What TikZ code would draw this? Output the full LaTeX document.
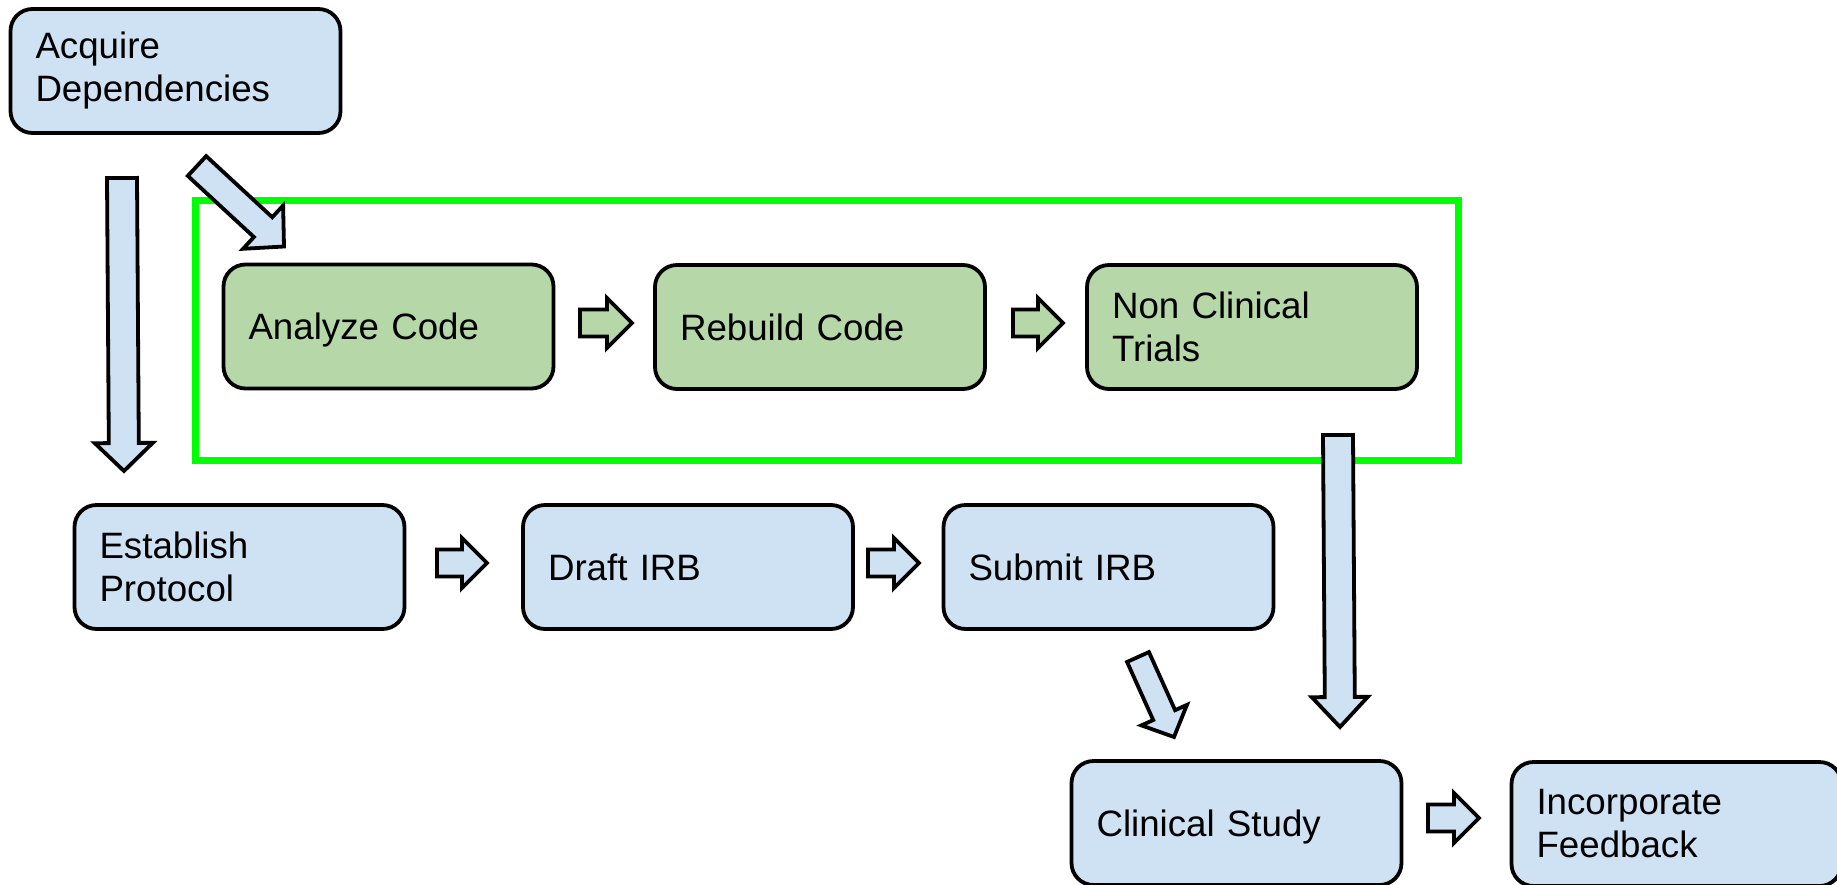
\documentclass[tikz,border=0pt]{standalone}
\usepackage{fontspec}
\setmainfont{Liberation Sans}
\usetikzlibrary{calc}

\definecolor{boxblue}{HTML}{CFE2F3}
\definecolor{boxgreen}{HTML}{B6D7A8}
\definecolor{framegreen}{HTML}{00FF00}

\tikzset{
  stepbox/.style={draw=black, line width=3.8pt, rounded corners=22pt, outer sep=0pt,
    minimum width=330pt, minimum height=124pt, text width=280pt, inner xsep=25pt,
    align=left, font=\fontsize{36.7}{43}\selectfont},
  bluebox/.style={stepbox, fill=boxblue},
  greenbox/.style={stepbox, fill=boxgreen},
  oneline/.style={text depth=0pt},
  fatline/.style={draw=black, line width=3.8pt, line join=miter},
  groupframe/.style={draw=framegreen, line width=7pt},
}

% block arrow: fill, tail, tip, half shaft, half head, head length
\newcommand\fatarrow[6]{%
  \coordinate (fa-base) at ($(#3)!#6!(#2)$);
  \draw[fatline, fill=#1] ($(#2)!#4!90:(#3)$) -- ($(fa-base)!#4!90:(#3)$)
    -- ($(fa-base)!#5!90:(#3)$) -- (#3) -- ($(fa-base)!#5!-90:(#3)$)
    -- ($(fa-base)!#4!-90:(#3)$) -- ($(#2)!#4!-90:(#3)$) -- cycle;
}

\begin{document}
\begin{tikzpicture}[x=1pt,y=-1pt]
  \useasboundingbox (0,0) rectangle (1837,884);

  % the code part
  \draw[groupframe] (195,200) rectangle (1458,460);

  \node[bluebox] (acq) at (175.5,71) {Acquire\\Dependencies};
  \node[greenbox, oneline] (analyze) at (388.5,326.5) {Analyze Code};
  \node[greenbox, oneline] (rebuild) at (820,327) {Rebuild Code};
  \node[greenbox] (nonclin) at (1252,327) {Non Clinical\\Trials};
  \node[bluebox] (est) at (239.5,567) {Establish\\Protocol};
  \node[bluebox, oneline] (draft) at (688,567) {Draft IRB};
  \node[bluebox, oneline] (submit) at (1108.5,567) {Submit IRB};
  \node[bluebox, oneline] (clin) at (1236.5,823) {Clinical Study};
  \node[bluebox] (incorp) at (1676.5,824) {Incorporate\\Feedback};

  % arrow ends
  \coordinate (a1s) at ([xshift=-53.5pt,yshift=-45pt]acq.south);
  \coordinate (a1e) at ([xshift=-115.5pt,yshift=34pt]est.north);
  \coordinate (a2s) at ([xshift=21.5pt,yshift=-33pt]acq.south);
  \coordinate (a2e) at ([xshift=-104.5pt,yshift=18pt]analyze.north);
  \coordinate (a3s) at ([xshift=26.5pt,yshift=3.5pt]analyze.east);
  \coordinate (a3e) at ([xshift=-23pt,yshift=4pt]rebuild.west);
  \coordinate (a4s) at ([xshift=28pt,yshift=4pt]rebuild.east);
  \coordinate (a4e) at ([xshift=-24pt,yshift=4pt]nonclin.west);
  \coordinate (a5s) at ([xshift=86pt,yshift=-46pt]nonclin.south);
  \coordinate (a5e) at ([xshift=103.5pt,yshift=34pt]clin.north);
  \coordinate (a6s) at ([xshift=32.5pt,yshift=4pt]est.east);
  \coordinate (a6e) at ([xshift=-36pt,yshift=4pt]draft.west);
  \coordinate (a7s) at ([xshift=15pt,yshift=4pt]draft.east);
  \coordinate (a7e) at ([xshift=-24.5pt,yshift=4pt]submit.west);
  \coordinate (a8s) at ([xshift=29.5pt,yshift=-28pt]submit.south);
  \coordinate (a8e) at ([xshift=-62.5pt,yshift=24pt]clin.north);
  \coordinate (a9s) at ([xshift=26.5pt,yshift=5pt]clin.east);
  \coordinate (a9e) at ([xshift=-32.5pt,yshift=6pt]incorp.west);

  \fatarrow{boxblue}{a1s}{a1e}{15pt}{29pt}{28pt}
  \fatarrow{boxblue}{a2s}{a2e}{13.5pt}{29.5pt}{28.5pt}
  \fatarrow{boxgreen}{a3s}{a3e}{13.5pt}{25pt}{25pt}
  \fatarrow{boxgreen}{a4s}{a4e}{13.5pt}{25pt}{25pt}
  \fatarrow{boxblue}{a5s}{a5e}{15pt}{28pt}{30pt}
  \fatarrow{boxblue}{a6s}{a6e}{13.5pt}{25pt}{25pt}
  \fatarrow{boxblue}{a7s}{a7e}{13.5pt}{25pt}{25pt}
  \fatarrow{boxblue}{a8s}{a8e}{12pt}{25pt}{24pt}
  \fatarrow{boxblue}{a9s}{a9e}{13.5pt}{25pt}{25pt}
\end{tikzpicture}
\end{document}
